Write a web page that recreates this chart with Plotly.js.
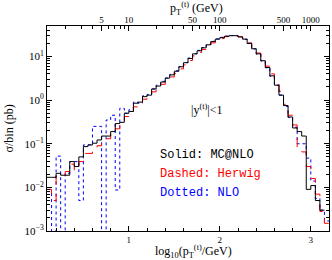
<!DOCTYPE html>
<html>
<head>
<meta charset="utf-8">
<script src="https://cdn.plot.ly/plotly-3.0.1.min.js"></script>
<style>html,body{margin:0;padding:0;background:#fff;}#chart{width:332px;height:260px;}</style>
</head>
<body>
<div id="chart"></div>
<script>
// bin lower edges in log10(pT/GeV)
const binLo = [0.10,0.15,0.20,0.25,0.30,0.35,0.40,0.45,0.50,0.55,0.60,0.65,0.70,0.75,0.80,0.85,0.90,0.95,
  1.00,1.05,1.10,1.15,1.20,1.25,1.30,1.35,1.40,1.45,1.50,1.55,1.60,1.65,1.70,1.75,1.80,1.85,1.90,1.95,
  2.00,2.05,2.10,2.15,2.20,2.25,2.30,2.35,2.40,2.45,2.50,2.55,2.60,2.65,2.70,2.75,2.80,2.85,2.90,2.95,
  3.00,3.05,3.10,3.15];
const binWidth = 0.05;
const ZERO = 1e-7; // empty bin

const mcatnlo = [0.017,0.017,0.021,0.019,0.019,0.039,0.030,0.050,0.086,0.094,0.103,0.122,0.15,0.15,0.19,0.29,0.31,0.50,
  0.55,0.85,0.90,1.2,1.3,1.8,2.1,2.6,3.2,3.8,4.6,5.8,7.2,9.0,11.5,13.5,15.8,18.5,22,25,
  27,29,30,30,28,25,20,15,11.5,8,5.6,3.6,2.2,1.3,0.75,0.41,0.23,0.19,0.15,0.009,
  0.011,0.005,0.003,null];
const herwig = [0.009,0.005,0.019,0.019,0.023,0.034,0.025,0.039,0.060,0.060,0.079,0.09,0.12,0.13,0.17,0.22,0.27,0.42,
  0.48,0.70,0.80,1.05,1.15,1.55,1.85,2.3,2.8,3.4,4.1,5.2,6.4,8.1,10.3,12.3,14.5,17.3,20.5,23.5,
  26,28.5,30,30,28.5,25.5,20.5,15.5,12,8.5,6.0,4.0,2.5,1.6,0.8,0.45,0.27,0.08,0.065,0.03,
  0.016,0.007,0.0028,0.0015];
const nlo = [0.008,ZERO,0.052,ZERO,0.021,0.039,0.039,0.005,0.094,0.094,0.25,0.25,ZERO,0.35,0.45,0.0087,0.65,0.5,
  0.6,0.9,0.85,1.25,1.35,1.8,2.2,2.7,3.2,3.9,4.7,5.9,7.3,9.2,11.6,13.8,16,18.8,22.3,25.3,
  27.5,29.3,30.2,30,28,24.8,19.8,15,11.3,7.9,5.5,3.5,2.2,1.3,0.72,0.40,0.24,0.1,0.1,0.047,
  0.014,0.0056,0.003,0.0017];

const yTickVals = [0.001,0.01,0.1,1,10];
const yTickText = ['10<sup>−3</sup>','10<sup>−2</sup>','10<sup>−1</sup>','10<sup>0</sup>','10<sup>1</sup>'];
const ptTickVals = [5,10,50,100,500,1000];
const ptTickText = ['5','10','50','100','500','1000'];

function histXY(vals){
  const xs=[], ys=[];
  let last=-1;
  for(let i=0;i<vals.length;i++){ if(vals[i]!==null){ xs.push(binLo[i]); ys.push(vals[i]); last=i; } }
  xs.push(binLo[last]+binWidth); ys.push(vals[last]);
  return {x:xs,y:ys};
}

const serif = 'Liberation Serif, DejaVu Serif, serif';
const mono = 'Liberation Mono, DejaVu Sans Mono, monospace';

const h1=histXY(mcatnlo), h2=histXY(herwig), h3=histXY(nlo);
const traces = [
  {x:h3.x,y:h3.y,mode:'lines',line:{shape:'hv',color:'#0000ff',width:1,dash:'dot'},hoverinfo:'skip'},
  {x:h2.x,y:h2.y,mode:'lines',line:{shape:'hv',color:'#ff0000',width:1,dash:'dash'},hoverinfo:'skip'},
  {x:h1.x,y:h1.y,mode:'lines',line:{shape:'hv',color:'#000000',width:1},hoverinfo:'skip'},
  {x:[],y:[],xaxis:'x2',yaxis:'y',mode:'lines',hoverinfo:'skip'}
];

function logMinors(lo,hi){ const out=[]; for(let d=lo; d<=hi; d++){ for(let m=2;m<=9;m++){ out.push(m*Math.pow(10,d)); } } return out; }

const layout = {
  width:332,height:260,
  margin:{l:47,r:3,t:26,b:29,pad:0},
  paper_bgcolor:'#fff',plot_bgcolor:'#fff',
  showlegend:false,
  font:{family:serif,color:'#000'},
  xaxis:{type:'linear',range:[0.1,3.2],tickvals:[1,2,3],ticktext:['1','2','3'],
    ticks:'inside',ticklen:5,tickwidth:1,tickcolor:'#000',tickfont:{size:9,family:serif},
    showline:true,linecolor:'#000',linewidth:1,mirror:true,showgrid:false,zeroline:false,
    minor:{tickvals:[0.2,0.4,0.6,0.8,1.2,1.4,1.6,1.8,2.2,2.4,2.6,2.8,3.2],ticks:'inside',ticklen:3,tickcolor:'#000',showgrid:false}},
  xaxis2:{type:'log',range:[0.1,3.2],overlaying:'x',side:'top',anchor:'y',
    tickvals:ptTickVals,ticktext:ptTickText,ticks:'inside',ticklen:5,tickwidth:1,tickcolor:'#000',
    tickfont:{size:9,family:serif},showgrid:false,zeroline:false,showline:false,
    minor:{tickvals:[2,3,4,6,7,8,9,20,30,40,60,70,80,90,200,300,400,600,700,800,900],ticks:'inside',ticklen:3,tickcolor:'#000',showgrid:false}},
  yaxis:{type:'log',range:[-3,Math.log10(50)],tickvals:yTickVals,ticktext:yTickText,
    ticks:'inside',ticklen:5,tickwidth:1,tickcolor:'#000',tickfont:{size:11,family:serif},
    showline:true,linecolor:'#000',linewidth:1,mirror:'ticks',showgrid:false,zeroline:false,
    minor:{tickvals:logMinors(-3,1),ticks:'inside',ticklen:3,tickcolor:'#000',showgrid:false}},
  annotations:[
    {xref:'paper',yref:'paper',x:0.564,y:0.592,text:'|y<sup>(t)</sup>|<1',showarrow:false,font:{family:serif,size:12,color:'#000'},xanchor:'center',yanchor:'middle'},
    {xref:'paper',yref:'paper',x:0.395,y:0.37,text:'Solid: MC@NLO',showarrow:false,font:{family:mono,size:12,color:'#000'},xanchor:'left',yanchor:'middle'},
    {xref:'paper',yref:'paper',x:0.395,y:0.277,text:'Dashed: Herwig',showarrow:false,font:{family:mono,size:12,color:'#ff0000'},xanchor:'left',yanchor:'middle'},
    {xref:'paper',yref:'paper',x:0.395,y:0.184,text:'Dotted: NLO',showarrow:false,font:{family:mono,size:12,color:'#0000ff'},xanchor:'left',yanchor:'middle'},
    {xref:'paper',yref:'paper',x:-0.135,y:0.5,text:'σ/bin (pb)',textangle:-90,showarrow:false,font:{family:serif,size:12,color:'#000'},xanchor:'center',yanchor:'middle'},
    {xref:'paper',yref:'paper',x:0.52,y:-0.1,text:'log<sub>10</sub>(p<sub>T</sub><sup>(t)</sup>/GeV)',showarrow:false,font:{family:serif,size:12,color:'#000'},xanchor:'center',yanchor:'middle'},
    {xref:'paper',yref:'paper',x:0.53,y:1.085,text:'p<sub>T</sub><sup>(t)</sup> (GeV)',showarrow:false,font:{family:serif,size:12,color:'#000'},xanchor:'center',yanchor:'middle'}
  ]
};

Plotly.newPlot('chart',traces,layout,{staticPlot:true,displayModeBar:false});
</script>
</body>
</html>
